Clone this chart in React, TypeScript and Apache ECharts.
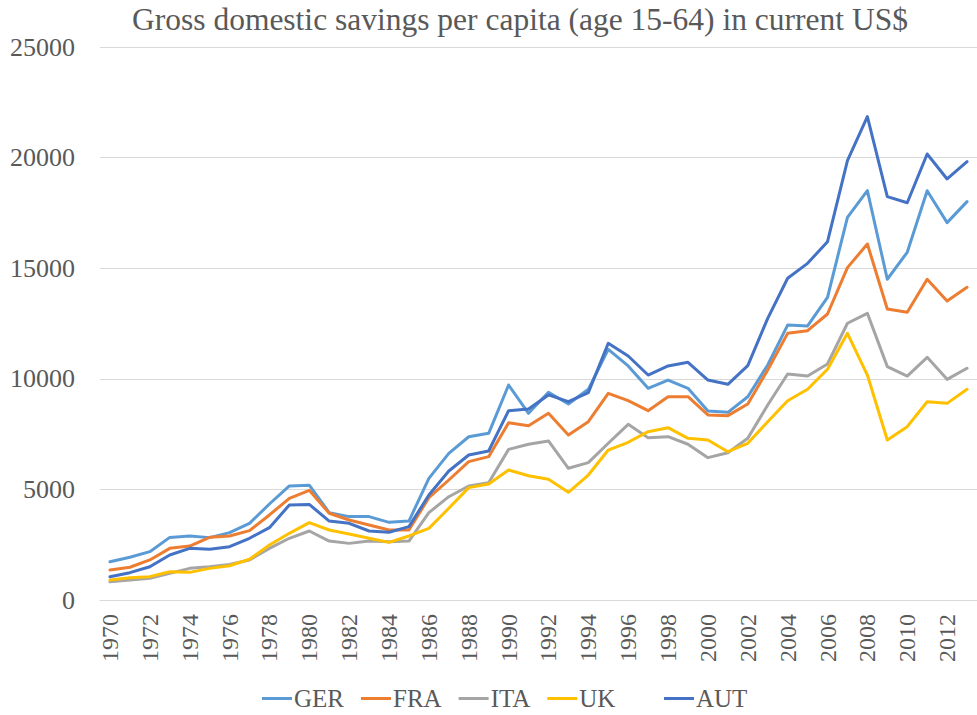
import React, { useEffect, useRef } from "react";
import * as echarts from "echarts";

const years: string[] = [];
for (let y = 1970; y <= 2013; y++) years.push(String(y));

const GER = [1730, 1930, 2185, 2830, 2890, 2820, 3045, 3465, 4340, 5155, 5190, 3950, 3770, 3770, 3510, 3570, 5500, 6630, 7380, 7535, 9720, 8440, 9390, 8860, 9525, 11330, 10580, 9570, 9945, 9570, 8545, 8485, 9190, 10625, 12430, 12390, 13685, 17300, 18505, 14500, 15720, 18505, 17060, 18010];
const FRA = [1355, 1480, 1810, 2335, 2440, 2835, 2895, 3135, 3845, 4595, 4960, 3920, 3615, 3390, 3165, 3165, 4625, 5425, 6255, 6480, 8015, 7880, 8440, 7460, 8060, 9345, 9010, 8560, 9190, 9190, 8365, 8335, 8860, 10400, 12055, 12175, 12930, 15025, 16095, 13155, 13005, 14500, 13515, 14135];
const ITA = [825, 905, 980, 1205, 1430, 1505, 1610, 1810, 2335, 2790, 3120, 2665, 2560, 2665, 2635, 2665, 3950, 4670, 5155, 5305, 6810, 7040, 7190, 5955, 6210, 7085, 7940, 7340, 7385, 7040, 6435, 6660, 7310, 8815, 10215, 10125, 10670, 12510, 12960, 10550, 10125, 10970, 9975, 10475];
const UK = [905, 1010, 1055, 1280, 1250, 1430, 1550, 1840, 2485, 3015, 3495, 3165, 2985, 2790, 2605, 2895, 3240, 4145, 5080, 5245, 5875, 5620, 5455, 4870, 5650, 6780, 7130, 7610, 7790, 7310, 7235, 6705, 7085, 8060, 9010, 9525, 10430, 12055, 10170, 7235, 7835, 8965, 8890, 9525];
const AUT = [1055, 1235, 1505, 2035, 2335, 2290, 2410, 2790, 3270, 4295, 4320, 3570, 3465, 3120, 3060, 3315, 4745, 5830, 6555, 6735, 8560, 8635, 9270, 8965, 9375, 11605, 11030, 10170, 10580, 10745, 9945, 9750, 10595, 12735, 14545, 15220, 16200, 19860, 21850, 18235, 17960, 20165, 19035, 19815];

const seriesNames = ["GER", "FRA", "ITA", "UK", "AUT"];
const seriesData = [GER, FRA, ITA, UK, AUT];
const colors = ["#5B9BD5", "#ED7D31", "#A5A5A5", "#FFC000", "#4472C4"];

const FONT = "Liberation Serif";
const TXT = "#595959";

const legendBase = {
  top: 681,
  icon: "rect",
  itemWidth: 30,
  itemHeight: 3,
  itemGap: 17,
  textStyle: { fontFamily: FONT, fontSize: 25, color: TXT, padding: [0, 0, 0, -3] },
};

export default function App() {
  const ref = useRef<HTMLDivElement>(null);
  useEffect(() => {
    if (!ref.current) return;
    const chart = echarts.init(ref.current, undefined, { renderer: "svg" });
    chart.setOption({
      animation: false,
      backgroundColor: "#ffffff",
      textStyle: { fontFamily: FONT },
      title: {
        text: "Gross domestic savings per capita (age 15-64) in current US$",
        left: 127,
        top: -2,
        textStyle: { fontFamily: FONT, fontSize: 31.5, fontWeight: "normal", color: TXT },
      },
      legend: [
        { ...legendBase, data: seriesNames.slice(0, 4), left: 257 },
        { ...legendBase, data: seriesNames.slice(4), left: 659 },
      ],
      grid: { left: 100, right: -10, top: 47, bottom: 115, containLabel: false },
      xAxis: {
        type: "category",
        data: years,
        boundaryGap: true,
        axisLine: { show: true, lineStyle: { color: "#D9D9D9", width: 1 } },
        axisTick: { show: false },
        axisLabel: {
          rotate: 90,
          interval: 1,
          margin: 14,
          fontFamily: FONT,
          fontSize: 24,
          color: TXT,
        },
      },
      yAxis: {
        type: "value",
        min: 0,
        max: 25000,
        interval: 5000,
        axisLine: { show: false },
        axisTick: { show: false },
        splitLine: { lineStyle: { color: "#D9D9D9", width: 1 } },
        axisLabel: {
          margin: 25,
          fontFamily: FONT,
          fontSize: 26,
          color: TXT,
          formatter: (v: number) => String(v),
        },
      },
      series: seriesNames.map((n, i) => ({
        name: n,
        type: "line",
        data: seriesData[i],
        showSymbol: false,
        symbol: "none",
        lineStyle: { color: colors[i], width: 3, join: "round", cap: "round" },
        itemStyle: { color: colors[i] },
      })),
    });
    return () => chart.dispose();
  }, []);
  return (
    <div
      ref={ref}
      style={{ position: "absolute", left: 0, top: 0, width: 977, height: 715 }}
    />
  );
}
